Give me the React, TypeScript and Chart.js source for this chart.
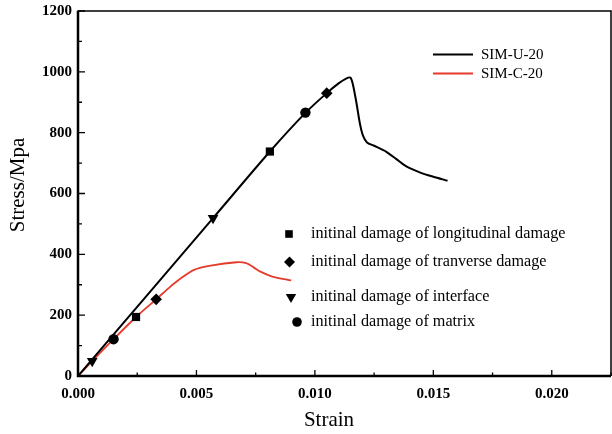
import React, { useEffect, useRef } from "react";
import { Chart, registerables } from "chart.js";

Chart.register(...registerables);

// SIM-U-20 curve
const uStrain = [0, 0.0057, 0.0081, 0.0096, 0.0105, 0.0110, 0.0113, 0.01150, 0.01160, 0.01175, 0.01190, 0.01203, 0.01220, 0.01250, 0.01300, 0.01344, 0.01386, 0.0145, 0.0150, 0.0156];
const uStress = [0, 519, 738, 865, 930, 962, 977, 981, 960, 900, 830, 790, 768, 757, 738, 713, 689, 667, 655, 642];

// SIM-C-20 curve
const cStrain = [0, 0.0006, 0.0015, 0.00245, 0.0033, 0.0039, 0.0043, 0.0049, 0.0056, 0.0067, 0.0071, 0.0074, 0.0077, 0.0082, 0.0090];
const cStress = [0, 49, 121, 194, 252, 294, 319, 349, 363, 374, 371, 358, 343, 327, 314];

// damage markers: [longitudinal, transverse, interface, matrix]
const markerLabels = [
  "initinal damage of longitudinal damage",
  "initinal damage of tranverse damage",
  "initinal damage of interface",
  "initinal damage of matrix",
];
const uMarkStrain = [0.0081, 0.0105, 0.0057, 0.0096];
const uMarkStress = [738, 930, 519, 866];
const cMarkStrain = [0.00245, 0.0033, 0.0006, 0.0015];
const cMarkStress = [194, 252, 49, 121];

const seriesNames = ["SIM-U-20", "SIM-C-20"];
const xTicks = [0, 0.005, 0.01, 0.015, 0.02];
const xMinor = [0.0025, 0.0075, 0.0125, 0.0175, 0.0225];
const yTicks = [0, 200, 400, 600, 800, 1000, 1200];
const yMinor = [100, 300, 500, 700, 900, 1100];

const RED = "#e53b2c";
const SERIF = "'Liberation Serif', 'Times New Roman', serif";

const markerStyles: any[] = ["rect", "rectRot", "triangle", "circle"];
const markerRot = [0, 0, 180, 0];
const markerRad = [5.8, 5.8, 6.2, 5.2];

function drawShape(ctx: CanvasRenderingContext2D, kind: number, x: number, y: number) {
  ctx.beginPath();
  if (kind === 0) {
    ctx.rect(x - 3.8, y - 3.8, 7.6, 7.6);
  } else if (kind === 1) {
    const r = 5.5;
    ctx.moveTo(x, y - r);
    ctx.lineTo(x + r, y);
    ctx.lineTo(x, y + r);
    ctx.lineTo(x - r, y);
    ctx.closePath();
  } else if (kind === 2) {
    ctx.moveTo(x - 5.2, y - 3);
    ctx.lineTo(x + 5.2, y - 3);
    ctx.lineTo(x, y + 6);
    ctx.closePath();
  } else {
    ctx.arc(x, y, 4.8, 0, Math.PI * 2);
  }
  ctx.fillStyle = "#000";
  ctx.fill();
}

const framePlugin = {
  id: "frameAndLegend",
  afterDraw(chart: any) {
    const { ctx, chartArea: a, scales } = chart;
    const xs = scales.x;
    const ys = scales.y;
    ctx.save();
    ctx.strokeStyle = "#000";
    // frame
    ctx.lineWidth = 1.5;
    ctx.beginPath();
    ctx.moveTo(a.left, a.top);
    ctx.lineTo(a.right, a.top);
    ctx.lineTo(a.right, a.bottom);
    ctx.stroke();
    ctx.lineWidth = 2.5;
    ctx.beginPath();
    ctx.moveTo(a.left, a.top - 0.5);
    ctx.lineTo(a.left, a.bottom);
    ctx.lineTo(a.right, a.bottom);
    ctx.stroke();
    // inward ticks
    ctx.lineWidth = 1.3;
    ctx.beginPath();
    xTicks.forEach((v) => {
      const p = xs.getPixelForValue(v);
      ctx.moveTo(p, a.bottom);
      ctx.lineTo(p, a.bottom - 6);
    });
    xMinor.forEach((v) => {
      const p = xs.getPixelForValue(v);
      ctx.moveTo(p, a.bottom);
      ctx.lineTo(p, a.bottom - 3.5);
    });
    yTicks.forEach((v) => {
      const p = ys.getPixelForValue(v);
      ctx.moveTo(a.left, p);
      ctx.lineTo(a.left + 7, p);
    });
    yMinor.forEach((v) => {
      const p = ys.getPixelForValue(v);
      ctx.moveTo(a.left, p);
      ctx.lineTo(a.left + 4, p);
    });
    ctx.stroke();

    // axis titles
    ctx.fillStyle = "#000";
    ctx.font = `21px ${SERIF}`;
    ctx.textAlign = "center";
    ctx.textBaseline = "middle";
    ctx.fillText("Strain", 329, 420);
    ctx.save();
    ctx.translate(18, 185);
    ctx.rotate(-Math.PI / 2);
    ctx.fillText("Stress/Mpa", 0, 0);
    ctx.restore();

    // series legend
    ctx.font = `15px ${SERIF}`;
    ctx.textAlign = "left";
    const lys = [54.5, 73.5];
    const lcols = ["#000", RED];
    seriesNames.forEach((n, i) => {
      ctx.strokeStyle = lcols[i];
      ctx.lineWidth = 2;
      ctx.beginPath();
      ctx.moveTo(433, lys[i]);
      ctx.lineTo(473, lys[i]);
      ctx.stroke();
      ctx.fillStyle = "#000";
      ctx.fillText(n, 481, lys[i] + 1);
    });

    // marker legend
    ctx.font = `16.2px ${SERIF}`;
    const my = [234, 262, 297, 322];
    const mx = [289, 289.5, 291, 297];
    markerLabels.forEach((t, i) => {
      drawShape(ctx, i, mx[i], my[i]);
      ctx.fillStyle = "#000";
      ctx.fillText(t, 311, my[i]);
    });
    ctx.restore();
  },
};

function zeroPad(s: any) {
  s.paddingLeft = 0;
  s.paddingRight = 0;
  s.paddingTop = 0;
  s.paddingBottom = 0;
}

export default function App() {
  const ref = useRef<HTMLCanvasElement | null>(null);
  useEffect(() => {
    if (!ref.current) return;
    const markerSets = markerLabels.map((lab, i) => ({
      type: "scatter" as const,
      label: lab,
      data: [
        { x: uMarkStrain[i], y: uMarkStress[i] },
        { x: cMarkStrain[i], y: cMarkStress[i] },
      ],
      pointStyle: markerStyles[i],
      rotation: markerRot[i],
      pointRadius: markerRad[i],
      pointBackgroundColor: "#000",
      pointBorderColor: "#000",
      pointBorderWidth: 0,
      showLine: false,
      order: 0,
    }));
    const chart = new Chart(ref.current, {
      type: "scatter",
      data: {
        datasets: [
          ...markerSets,
          {
            label: seriesNames[0],
            data: uStrain.map((x, i) => ({ x, y: uStress[i] })),
            showLine: true,
            borderColor: "#000",
            borderWidth: 2,
            pointRadius: 0,
            tension: 0.25,
            order: 1,
          } as any,
          {
            label: seriesNames[1],
            data: cStrain.map((x, i) => ({ x, y: cStress[i] })),
            showLine: true,
            borderColor: RED,
            borderWidth: 1.8,
            pointRadius: 0,
            tension: 0.25,
            order: 1,
          } as any,
        ],
      },
      options: {
        responsive: false,
        maintainAspectRatio: false,
        animation: false,
        events: [],
        layout: { autoPadding: false, padding: { top: 11, right: 1, left: 0, bottom: 0 } },
        plugins: { legend: { display: false }, tooltip: { enabled: false } },
        scales: {
          x: {
            type: "linear",
            min: 0,
            max: 0.0225,
            grid: { display: false, drawTicks: false },
            border: { display: false },
            afterBuildTicks: (s: any) => {
              s.ticks = xTicks.map((v) => ({ value: v }));
            },
            afterFit: (s: any) => {
              s.height = 58;
              zeroPad(s);
            },
            ticks: {
              color: "#000",
              padding: 9,
              maxRotation: 0,
              autoSkip: false,
              font: { family: SERIF, size: 15, weight: "bold" },
              callback: (v: any) => Number(v).toFixed(3),
            },
          },
          y: {
            type: "linear",
            min: 0,
            max: 1200,
            grid: { display: false, drawTicks: false },
            border: { display: false },
            afterBuildTicks: (s: any) => {
              s.ticks = yTicks.map((v) => ({ value: v }));
            },
            afterFit: (s: any) => {
              s.width = 78;
              zeroPad(s);
            },
            ticks: {
              color: "#000",
              padding: 6,
              autoSkip: false,
              font: { family: SERIF, size: 15, weight: "bold" },
              callback: (v: any) => String(v),
            },
          },
        },
      },
      plugins: [framePlugin],
    });
    return () => chart.destroy();
  }, []);
  return (
    <div style={{ position: "absolute", left: 0, top: 0, width: 612, height: 434, background: "#fff" }}>
      <canvas ref={ref} width={612} height={434} style={{ width: 612, height: 434 }} />
    </div>
  );
}
